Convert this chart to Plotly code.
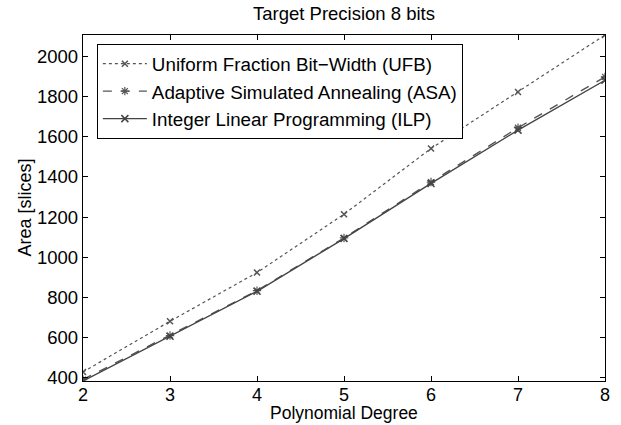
import plotly.graph_objects as go

degrees = [2, 3, 4, 5, 6, 7, 8]
ufb = [430, 682, 924, 1214, 1541, 1822, 2105]
asa = [392, 611, 834, 1096, 1374, 1644, 1897]
ilp = [385, 607, 831, 1093, 1367, 1632, 1880]

series_names = [
    "Uniform Fraction Bit\u2212Width (UFB)",
    "Adaptive Simulated Annealing (ASA)",
    "Integer Linear Programming (ILP)",
]
y_ticks = [400, 600, 800, 1000, 1200, 1400, 1600, 1800, 2000]

FONT = "Liberation Sans, Arial, Helvetica, sans-serif"

# plot area in pixels
L, R, T, B = 83, 610, 35, 381
PW, PH = R - L, B - T

fig = go.Figure()
fig.add_trace(go.Scatter(
    x=degrees, y=ufb, name=series_names[0], mode="lines+markers",
    line=dict(color="#555555", width=1.2, dash="dot"),
    marker=dict(symbol="x-thin-open", size=6, line=dict(color="#111111", width=1.5)),
))
fig.add_trace(go.Scatter(
    x=degrees, y=asa, name=series_names[1], mode="lines+markers",
    line=dict(color="#555555", width=1.4, dash="dash"),
    marker=dict(symbol="asterisk-open", size=7, line=dict(color="#555555", width=1.2)),
))
fig.add_trace(go.Scatter(
    x=degrees, y=ilp, name=series_names[2], mode="lines+markers",
    line=dict(color="#444444", width=1.4),
    marker=dict(symbol="x-thin-open", size=7, line=dict(color="#444444", width=1.5)),
))

axis_common = dict(
    showline=True, linecolor="black", linewidth=1.3, mirror="ticks",
    ticks="inside", ticklen=5, tickcolor="black", tickwidth=1,
    showgrid=False, zeroline=False,
)

fig.update_layout(
    width=621, height=425,
    margin=dict(l=L, r=621 - R, t=T, b=425 - B),
    paper_bgcolor="white", plot_bgcolor="white",
    font=dict(family=FONT, color="black"),
    xaxis=dict(range=[2, 8], dtick=1, tick0=2, ticklabelstandoff=-3,
               tickfont=dict(family=FONT, size=18, color="black"), **axis_common),
    yaxis=dict(range=[385, 2105], tickvals=y_ticks,
               tickfont=dict(family=FONT, size=18.5, color="black"), **axis_common),
    legend=dict(x=(97 - L) / PW, y=1 - (44 - T) / PH, xanchor="left", yanchor="top",
                bordercolor="black", borderwidth=1, bgcolor="white",
                font=dict(family=FONT, size=18.8, color="black"),
                tracegroupgap=0, itemwidth=44),
    showlegend=True,
    annotations=[
        dict(text="Target Precision 8 bits", xref="paper", yref="paper",
             x=0.5, y=1 + (T - 13) / PH, xanchor="center", yanchor="middle",
             showarrow=False, borderpad=0,
             font=dict(family=FONT, size=18.5, color="black")),
        dict(text="Polynomial Degree", xref="paper", yref="paper",
             x=0.5, y=-(424 - B) / PH, xanchor="center", yanchor="bottom",
             showarrow=False, borderpad=0,
             font=dict(family=FONT, size=17.5, color="black")),
        dict(text="Area [slices]", xref="paper", yref="paper",
             x=-(L - 24) / PW, y=0.5, xanchor="center", yanchor="middle",
             textangle=-90, showarrow=False, borderpad=0,
             font=dict(family=FONT, size=18, color="black")),
    ],
)

fig.write_html("out.html", config={"displayModeBar": False},
               post_script="document.body.style.margin='0';document.body.style.overflow='hidden';")
